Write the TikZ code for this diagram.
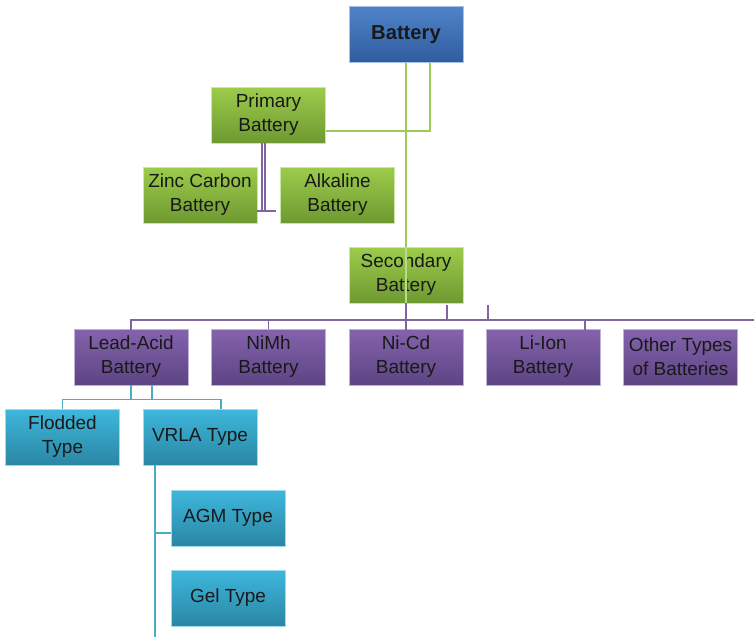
\documentclass[tikz,border=0pt]{standalone}
\usepackage{fontspec}
\setmainfont{Liberation Sans}
\usepackage{xcolor}
\usetikzlibrary{calc}
\definecolor{BlueTop}{HTML}{4F83C9}
\definecolor{BlueBot}{HTML}{2F5D9E}
\definecolor{GreenTop}{HTML}{9DCC4B}
\definecolor{GreenBot}{HTML}{6E9931}
\definecolor{PurpleTop}{HTML}{8463AD}
\definecolor{PurpleBot}{HTML}{5D4483}
\definecolor{TealTop}{HTML}{3EB7DC}
\definecolor{TealBot}{HTML}{2A86A4}
\definecolor{GreenLine}{HTML}{9BC95A}
\definecolor{PurpleLine}{HTML}{8064A2}
\definecolor{TealLine}{HTML}{4BACC6}

\begin{document}
\begin{tikzpicture}[x=0.02cm, y=-0.02cm,
  box/.style={minimum width=2.28cm, minimum height=1.12cm, align=center, inner sep=1pt, text=black!90, font=\fontsize{10.8}{13.6}\selectfont},
  bluebox/.style={box, top color=BlueTop, bottom color=BlueBot, draw=BlueTop!50!white, font=\fontsize{11.5}{13.6}\selectfont\bfseries},
  greenbox/.style={box, top color=GreenTop, bottom color=GreenBot, draw=GreenTop!50!white},
  purplebox/.style={box, top color=PurpleTop, bottom color=PurpleBot, draw=PurpleTop!50!white},
  tealbox/.style={box, top color=TealTop, bottom color=TealBot, draw=TealTop!50!white},
  greenline/.style={draw=GreenLine, line width=0.7pt},
  purpleline/.style={draw=PurpleLine, line width=0.7pt},
  tealline/.style={draw=TealLine, line width=0.7pt}]%
\useasboundingbox (0,0) rectangle (754,637);%
% boxes
\node[bluebox] (battery) at (406,34.5) {Battery};%
\node[greenbox] (primary) at (268.5,115) {Primary\\Battery};%
\node[greenbox] (zinc) at (200,195) {Zinc Carbon\\Battery};%
\node[greenbox] (alkaline) at (337.5,195) {Alkaline\\Battery};%
\node[greenbox] (secondary) at (406,275) {Secondary\\Battery};%
\node[purplebox] (lead) at (131,357) {Lead-Acid\\Battery};%
\node[purplebox] (nimh) at (268.5,357) {NiMh\\Battery};%
\node[purplebox] (nicd) at (406,357) {Ni-Cd\\Battery};%
\node[purplebox] (liion) at (543,357) {Li-Ion\\Battery};%
\node[purplebox] (other) at (680.5,357) {Other Types\\of Batteries};%
\node[tealbox] (flodded) at (62.5,437) {Flodded\\Type};%
\node[tealbox] (vrla) at (200,437) {VRLA Type};%
\node[tealbox] (agm) at (228,518) {AGM Type};%
\node[tealbox] (gel) at (228,598) {Gel Type};%
% green connectors
\draw[greenline] (battery.south) -- (secondary.north);%
\draw[greenline, draw=GreenLine!70!white] (secondary.north) -- (secondary.south);%
\draw[greenline] ($(battery.south)+(24,0)$) |- ($(primary.east)+(0,16)$);%
% primary children
\draw[purpleline] ($(primary.south)+(-6.5,0)$) -- ($(primary.south)+(-6.5,68)$);%
\draw[purpleline] ($(primary.south)+(-3.5,0)$) -- ($(primary.south)+(-3.5,68)$);%
\draw[purpleline] ($(zinc.east)+(0,16)$) -- ($(alkaline.west)+(-4,16)$);%
% secondary children
\coordinate (busend) at (754,320);%
\draw[purpleline] (secondary.south) -- ($(nicd.north)+(0,6)$);%
\draw[purpleline] ($(lead.north)+(0,6)$) |- (busend);%
\draw[purpleline] (nimh.north) -- (nimh.north |- busend);%
\draw[purpleline] ($(secondary.south)+(41,2)$) -- ($(secondary.south)+(41,17)$);%
\draw[purpleline] ($(secondary.south)+(82,2)$) -- ($(secondary.south)+(82,17)$);%
\draw[purpleline] ($(liion.north)+(42,6)$) -- ($(liion.north)+(42,-9)$);%
% lead-acid children
\draw[tealline] (lead.south) -- ($(lead.south)+(0,15)$);%
\draw[tealline] ($(lead.south)+(21,0)$) -- ($(lead.south)+(21,15)$);%
\draw[tealline] (flodded.north) |- ($(vrla.north)+(21,-9)$) -- ($(vrla.north)+(21,0)$);%
% vrla children
\draw[tealline] ($(vrla.south)+(-45,0)$) -- ($(vrla.south)+(-45,172)$);%
\draw[tealline] ($(agm.west)+(0,15)$) -- ($(agm.west)+(-16,15)$);%
\end{tikzpicture}
\end{document}
